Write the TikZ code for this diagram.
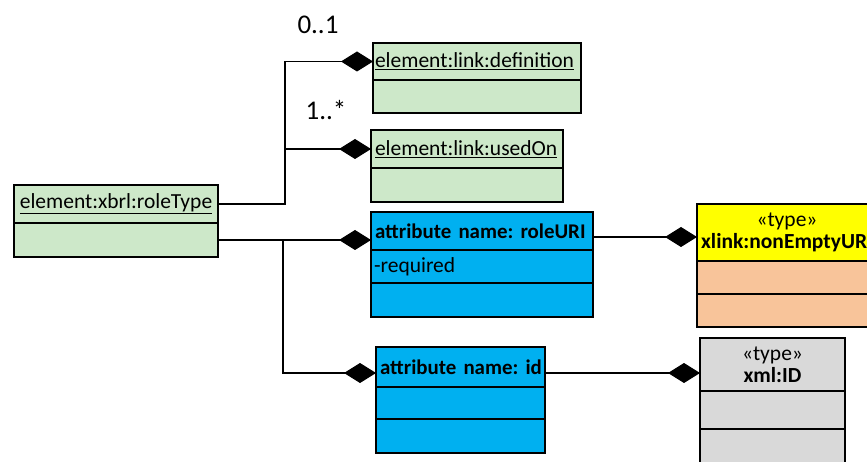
\documentclass[tikz,border=0pt]{standalone}
\usepackage{fontspec}
\setmainfont{Carlito}
\usetikzlibrary{arrows.meta,calc,positioning}

\definecolor{elemgreen}{RGB}{205,232,201}
\definecolor{attrblue}{RGB}{0,176,240}
\definecolor{typeyellow}{RGB}{255,255,0}
\definecolor{typepeach}{RGB}{248,196,154}
\definecolor{typegray}{RGB}{217,217,217}

\frenchspacing
\newcommand{\attrname}[1]{\mbox{\fontsize{20.9}{22}\selectfont\bfseries #1}}

\begin{document}
\begin{tikzpicture}[
  x=1pt, y=-1pt,
  font=\fontsize{21.5}{22}\selectfont,
  box/.style={draw=black, line width=1.5pt, anchor=north west, outer sep=0pt, inner xsep=3pt, inner ysep=0pt, align=left},
  part/.style={box, below=0pt of #1.south west, anchor=north west},
  typehead/.style={box, align=center},
  link/.style={draw=black, line width=1.1pt, -{Diamond[length=32pt,width=20pt]}},
  mult/.style={font=\fontsize{27}{30}\selectfont, inner sep=0pt}
]

\clip (0,0) rectangle (867,462);

% Element classes.
\node[box, fill=elemgreen, minimum width=204pt, minimum height=38pt, text width=198pt, align=center] (roleType) at (14,185)
  {\underline{element:xbrl:roleType}};
\node[part=roleType, fill=elemgreen, minimum width=204pt, minimum height=34pt] (roleTypeA) {};

\node[box, fill=elemgreen, minimum width=208pt, minimum height=37pt, text width=204pt, inner xsep=2pt] (definition) at (373,43)
  {\underline{element:link:definition}};
\node[part=definition, fill=elemgreen, minimum width=208pt, minimum height=33pt] (definitionA) {};

\node[box, fill=elemgreen, minimum width=192pt, minimum height=38pt, text width=184pt, inner xsep=4pt] (usedOn) at (371,130)
  {\underline{element:link:usedOn}};
\node[part=usedOn, fill=elemgreen, minimum width=192pt, minimum height=34pt] (usedOnA) {};

% Attribute classes.
\node[box, fill=attrblue, minimum width=222pt, minimum height=38pt, text width=214pt, inner xsep=4pt] (roleURI) at (371,212)
  {\attrname{attribute name: roleURI}};
\node[part=roleURI, fill=attrblue, minimum width=222pt, minimum height=33pt, text width=216pt] (roleURIA) {-required};
\node[part=roleURIA, fill=attrblue, minimum width=222pt, minimum height=34pt] (roleURIB) {};

\node[box, fill=attrblue, minimum width=169pt, minimum height=40pt, text width=161pt, inner xsep=4pt] (id) at (376,347)
  {\attrname{attribute name: id}};
\node[part=id, fill=attrblue, minimum width=169pt, minimum height=32pt] (idA) {};
\node[part=idA, fill=attrblue, minimum width=169pt, minimum height=34pt] (idB) {};

% Type classes.
\node[typehead, fill=typeyellow, minimum width=180pt, minimum height=57pt, text width=174pt] (nonEmpty) at (697,204)
  {«type»\\\textbf{xlink:nonEmptyURI}};
\node[part=nonEmpty, fill=typepeach, minimum width=180pt, minimum height=33pt] (nonEmptyA) {};
\node[part=nonEmptyA, fill=typepeach, minimum width=180pt, minimum height=33pt] (nonEmptyB) {};

\node[typehead, fill=typegray, minimum width=145pt, minimum height=53pt, text width=139pt] (xmlID) at (700,338)
  {«type»\\\textbf{xml:ID}};
\node[part=xmlID, fill=typegray, minimum width=145pt, minimum height=38pt] (xmlIDA) {};
\node[part=xmlIDA, fill=typegray, minimum width=145pt, minimum height=40pt] (xmlIDB) {};

% Child element links.
\coordinate (trunkTop) at (285,0);
\draw[link] (roleType.east) -| (trunkTop |- definition.west) -- (definition.west);
\draw[link] (roleType.east -| trunkTop) |- (usedOn.west);
\node[mult] (multDef) at (318,25) {0..1};
\node[mult] (multUsed) at (326,110) {1..*};

% Attribute links.
\coordinate (trunkLow) at (283,0);
\draw[link] (roleTypeA.east) -- (roleTypeA.east -| roleURI.west);
\draw[link] (roleTypeA.east -| trunkLow) |- ([yshift=-6pt]id.west);

% Type links.
\draw[link] ([yshift=-6pt]roleURI.east) -- ([yshift=-6pt]roleURI.east -| nonEmpty.west);
\draw[link] ([yshift=-6pt]id.east) -- ([yshift=-6pt]id.east -| xmlID.west);

\end{tikzpicture}
\end{document}
